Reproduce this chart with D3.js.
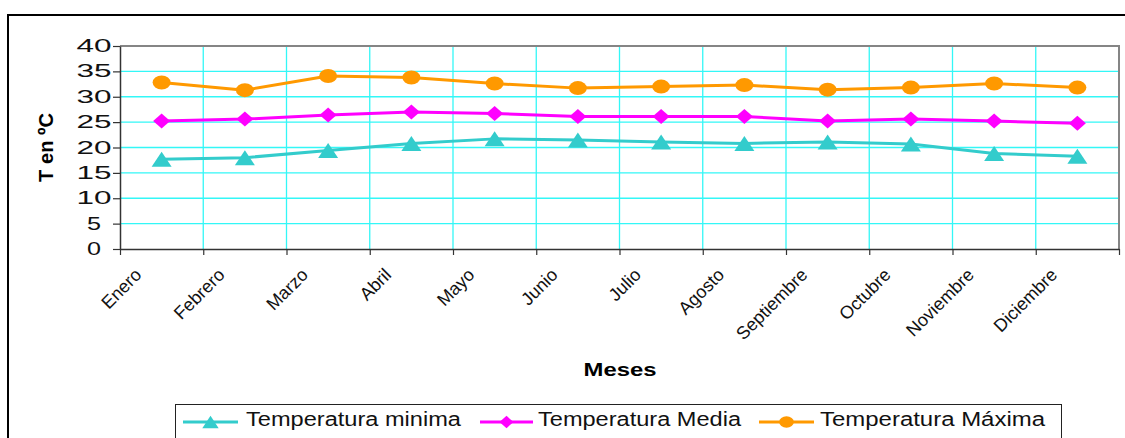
<!DOCTYPE html>
<html>
<head>
<meta charset="utf-8">
<script src="https://cdn.jsdelivr.net/npm/d3@7"></script>
<style>
  html, body { margin: 0; padding: 0; background: #fff; }
  svg { display: block; font-family: "Liberation Sans", Arial, sans-serif; }
</style>
</head>
<body>
<svg id="chart" width="1125" height="438"></svg>
<script>
// Monthly temperatures (ºC)
const months = ["Enero", "Febrero", "Marzo", "Abril", "Mayo", "Junio", "Julio",
                "Agosto", "Septiembre", "Octubre", "Noviembre", "Diciembre"];
const tempMin   = [17.7, 18.0, 19.4, 20.8, 21.7, 21.5, 21.1, 20.8, 21.1, 20.7, 18.8, 18.3];
const tempMedia = [25.2, 25.6, 26.4, 27.0, 26.7, 26.1, 26.1, 26.1, 25.2, 25.6, 25.2, 24.8];
const tempMax   = [32.8, 31.3, 34.1, 33.8, 32.6, 31.7, 32.0, 32.3, 31.4, 31.8, 32.6, 31.8];
const yTicks = [0, 5, 10, 15, 20, 25, 30, 35, 40];
const seriesNames = ["Temperatura minima", "Temperatura Media", "Temperatura Máxima"];

const svg = d3.select("#chart");
const plot = { left: 120, right: 1119, top: 46, bottom: 249 };

const x = d3.scaleBand().domain(months).range([plot.left, plot.right]).padding(0);
const cx = m => x(m) + x.bandwidth() / 2;
const xEdge = d3.scaleLinear().domain([0, months.length]).range([plot.left, plot.right]);
const y = d3.scaleLinear().domain([0, 40]).range([plot.bottom, plot.top]);

// outer frame
svg.append("rect")
  .attr("x", 8).attr("y", 15).attr("width", 1140).attr("height", 450)
  .attr("fill", "none").attr("stroke", "#000").attr("stroke-width", 2);

// gridlines
const grid = svg.append("g").attr("stroke", "#33f7f7").attr("stroke-width", 1.3);
grid.selectAll("line.h").data(yTicks.filter(v => v > 0 && v < 40)).join("line")
  .attr("class", "h")
  .attr("x1", plot.left).attr("x2", plot.right)
  .attr("y1", d => y(d)).attr("y2", d => y(d));
grid.selectAll("line.v").data(d3.range(1, months.length)).join("line")
  .attr("class", "v")
  .attr("x1", d => xEdge(d)).attr("x2", d => xEdge(d))
  .attr("y1", plot.top).attr("y2", plot.bottom);

// plot area border (top / right)
svg.append("path")
  .attr("d", `M${plot.left},${plot.top}H${plot.right}V${plot.bottom}`)
  .attr("fill", "none").attr("stroke", "#858585").attr("stroke-width", 2);

// y axis
const yAxis = svg.append("g")
  .attr("transform", `translate(${plot.left},0)`)
  .call(d3.axisLeft(y).tickValues(yTicks).tickSize(7).tickSizeOuter(0));
yAxis.select(".domain").attr("stroke", "#333").attr("stroke-width", 1.5);
yAxis.selectAll(".tick line").attr("stroke", "#333").attr("stroke-width", 1.2);
yAxis.selectAll(".tick text")
  .attr("x", -26).attr("text-anchor", "middle")
  .attr("font-size", 17.5).attr("font-family", "Liberation Sans, Arial, sans-serif")
  .attr("fill", "#111")
  .attr("textLength", d => String(d).length > 1 ? 35 : 14)
  .attr("lengthAdjust", "spacingAndGlyphs");

// x axis (ticks on category edges)
const xAxis = svg.append("g")
  .attr("transform", `translate(0,${plot.bottom})`)
  .call(d3.axisBottom(xEdge).tickValues(d3.range(0, months.length + 1))
        .tickFormat("").tickSize(6).tickSizeOuter(0));
xAxis.select(".domain").attr("stroke", "#333").attr("stroke-width", 1.5);
xAxis.selectAll(".tick line").attr("stroke", "#333").attr("stroke-width", 1.2);

// month labels, rotated
svg.append("g").selectAll("text").data(months).join("text")
  .attr("transform", d => `translate(${cx(d) - 19},276) rotate(-45)`)
  .attr("text-anchor", "end")
  .attr("font-size", 18)
  .attr("fill", "#111")
  .text(d => d);

// axis titles
svg.append("text")
  .attr("x", 620).attr("y", 376)
  .attr("text-anchor", "middle").attr("font-weight", "bold").attr("font-size", 18)
  .attr("textLength", 73).attr("lengthAdjust", "spacingAndGlyphs")
  .text("Meses");
svg.append("text")
  .attr("transform", "translate(53,147.5) rotate(-90)")
  .attr("text-anchor", "middle").attr("font-weight", "bold").attr("font-size", 20)
  .attr("textLength", 69).attr("lengthAdjust", "spacingAndGlyphs")
  .text("T en ºC");

// marker shapes
const markers = {
  tri: (g, s) => g.append("path").attr("d", `M0,${-7.5 * s}L${10 * s},${7.5 * s}L${-10 * s},${7.5 * s}Z`),
  dia: (g, s) => g.append("path").attr("d", `M0,${-7.5 * s}L${8.5 * s},0L0,${7.5 * s}L${-8.5 * s},0Z`),
  cir: (g, s) => g.append("ellipse").attr("rx", 9 * s).attr("ry", 7 * s)
};

const series = [
  { name: seriesNames[0], values: tempMin,   color: "#33cccc", marker: "tri" },
  { name: seriesNames[1], values: tempMedia, color: "#ff00ff", marker: "dia" },
  { name: seriesNames[2], values: tempMax,   color: "#ff9900", marker: "cir" }
];

const line = d3.line().x((d, i) => cx(months[i])).y(d => y(d));

series.forEach(s => {
  svg.append("path")
    .attr("d", line(s.values))
    .attr("fill", "none").attr("stroke", s.color).attr("stroke-width", 3)
    .attr("stroke-linejoin", "round");
  svg.append("g").selectAll("g").data(s.values).join("g")
    .attr("transform", (d, i) => `translate(${cx(months[i])},${y(d)})`)
    .each(function () { markers[s.marker](d3.select(this), 1).attr("fill", s.color); });
});

// legend
svg.append("rect")
  .attr("x", 175.5).attr("y", 404.5).attr("width", 886).attr("height", 60)
  .attr("fill", "#fff").attr("stroke", "#222").attr("stroke-width", 1);

const legendItems = [
  { x0: 183, x1: 238, text: 246, len: 215 },
  { x0: 480, x1: 533, text: 538, len: 203 },
  { x0: 759, x1: 814, text: 820, len: 225 }
];
series.forEach((s, i) => {
  const it = legendItems[i];
  const g = svg.append("g");
  g.append("line")
    .attr("x1", it.x0).attr("x2", it.x1).attr("y1", 422).attr("y2", 422)
    .attr("stroke", s.color).attr("stroke-width", 3);
  const mk = g.append("g").attr("transform", `translate(${(it.x0 + it.x1) / 2},422)`);
  markers[s.marker](mk, 0.82).attr("fill", s.color);
  g.append("text")
    .attr("x", it.text).attr("y", 426)
    .attr("font-size", 19.5).attr("fill", "#111")
    .attr("textLength", it.len).attr("lengthAdjust", "spacingAndGlyphs")
    .text(s.name);
});
</script>
</body>
</html>
